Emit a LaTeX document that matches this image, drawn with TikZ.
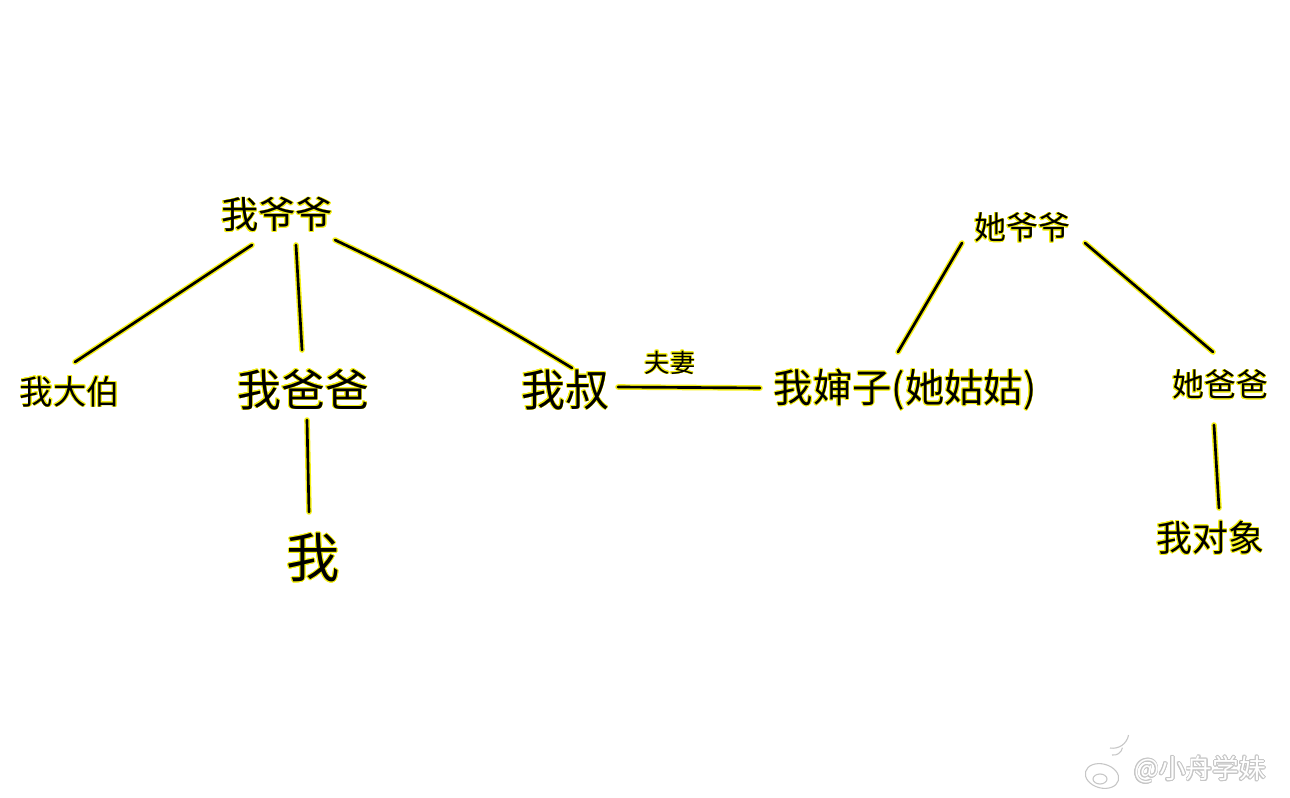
\documentclass[tikz,border=0pt]{standalone}
\usepackage{fontspec}
\newfontfamily\cjk{Noto Sans CJK SC}
\usepackage{contour}
\contourlength{0.55pt}
\contournumber{16}
\usetikzlibrary{calc}
\definecolor{hlyellow}{RGB}{245,240,20}
\newcommand{\hlt}[1]{\contour{hlyellow}{#1}}
\tikzset{
  person/.style={font=\cjk, inner sep=0pt, text=black},
  link/.style={line width=2pt, line cap=round, draw=black,
    preaction={draw=hlyellow, line width=4.2pt, line cap=round}},
}
\begin{document}
\begin{tikzpicture}[x=0.75pt,y=-0.75pt]
\useasboundingbox (0,0) rectangle (1290,798);
\fill[white] (0,0) rectangle (1290,798);
% people
\node[person, font=\cjk\fontsize{28}{28}\selectfont] (yeye) at (277,215) {\hlt{我爷爷}};
\node[person, font=\cjk\fontsize{25}{25}\selectfont] (dabo) at (70,392) {\hlt{我大伯}};
\node[person, font=\cjk\fontsize{33}{33}\selectfont] (baba) at (303,390) {\hlt{我爸爸}};
\node[person, font=\cjk\fontsize{40}{40}\selectfont] (wo) at (313,558) {\hlt{我}};
\node[person, font=\cjk\fontsize{33}{33}\selectfont] (shu) at (565,390) {\hlt{我叔}};
\node[person, font=\cjk\fontsize{19}{19}\selectfont] (fuqi) at (670,363) {\hlt{夫妻}};
\node[person, font=\cjk\fontsize{29.5}{29.5}\selectfont] (shen) at (905,390) {\hlt{我婶子(她姑姑)}};
\node[person, font=\cjk\fontsize{24}{24}\selectfont] (taye) at (1022,228) {\hlt{她爷爷}};
\node[person, font=\cjk\fontsize{24}{24}\selectfont] (taba) at (1220,385) {\hlt{她爸爸}};
\node[person, font=\cjk\fontsize{27}{27}\selectfont] (dx) at (1210,538) {\hlt{我对象}};
% connectors
\draw[link] ($(yeye)+(-25,30)$) -- ($(dabo)+(5,-30)$);
\draw[link] ($(yeye)+(19,30)$) -- ($(baba)+(-1,-40)$);
\draw[link] ($(yeye)+(58,25)$) to[bend left=3] ($(shu)+(7,-22)$);
\draw[link] ($(baba)+(4,30)$) -- ($(wo)+(-4,-46)$);
\draw[link] ($(shu)+(53,-3)$) -- ($(shen)+(-145,-2)$);
\draw[link] ($(taye)+(-60,15)$) -- ($(shen)+(-7,-38)$);
\draw[link] ($(taye)+(63,15)$) -- ($(taba)+(-7,-33)$);
\draw[link] ($(taba)+(-6,40)$) -- ($(dx)+(9,-30)$);
% watermark
\begin{scope}[draw=gray!45, fill=white, line width=0.8pt]
  \filldraw[rotate around={-15:(1102,776)}] (1102,776) ellipse (17 and 12);
  \filldraw (1100,779) ellipse (7 and 5);
  \draw (1112,755) arc (100:10:9);
  \draw (1110,748) arc (100:10:16);
\end{scope}
\node[person, font=\cjk\fontsize{20}{20}\selectfont] (wm) at (1200,770)
  {\contourlength{0.6pt}\contour{gray!45}{\textcolor{white}{@小舟学妹}}};
\end{tikzpicture}
\end{document}
